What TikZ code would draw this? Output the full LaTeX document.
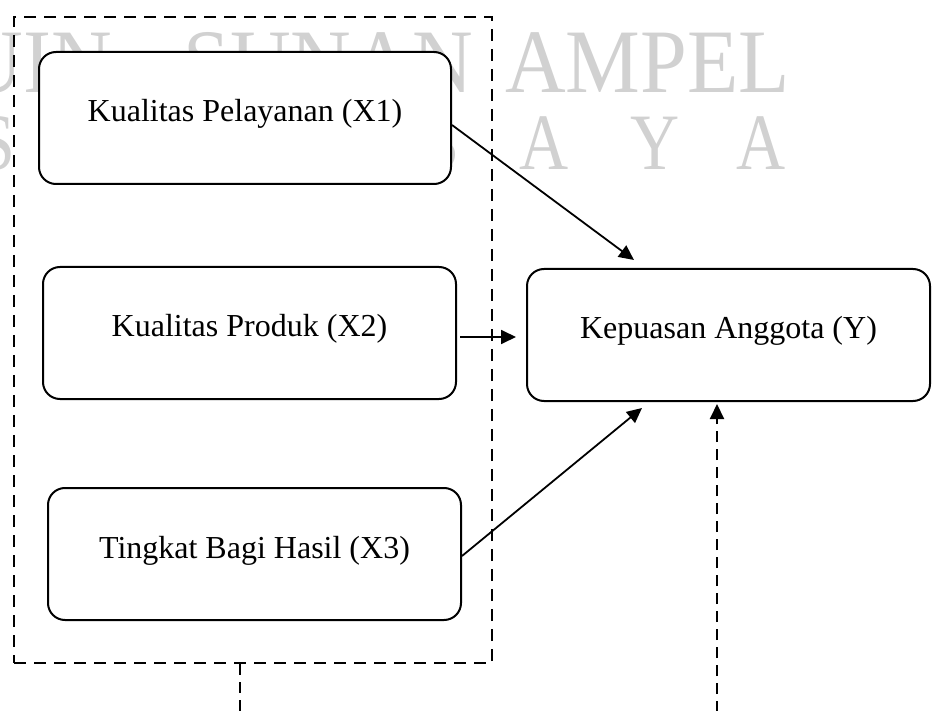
\documentclass[tikz,border=0pt]{standalone}
\usepackage{fontspec}
\setmainfont{Liberation Serif}
\usetikzlibrary{arrows.meta,calc}
\begin{document}
\begin{tikzpicture}[x=1pt,y=-1pt,
  box/.style={draw, line width=2pt, rounded corners=17pt, fill=white,
    minimum height=132pt, text height=22pt, text depth=14pt, inner sep=0pt,
    font=\fontsize{32}{38}\selectfont},
  grp/.style={draw, line width=2pt, dash pattern=on 12pt off 8pt, inner sep=0pt},
  arr/.style={line width=1.8pt, -{Triangle[length=15pt,width=14pt]}},
  darr/.style={line width=2pt, dash pattern=on 11pt off 7pt, -{Triangle[length=15pt,width=14pt]}},
  dline/.style={line width=2pt, dash pattern=on 11pt off 7pt},
  wma/.style={text=black!18, inner sep=0pt, font=\fontsize{84}{84}\selectfont, yscale=1.08},
  wmb/.style={text=black!18, inner sep=0pt, font=\fontsize{80}{80}\selectfont, xscale=0.85}]
\useasboundingbox (0,0) rectangle (932,711);
% watermark
\node[wma, anchor=base east] (wuin) at (112,93) {UIN};
\node[wma, anchor=base east] (wsun) at (473,93) {SUNAN};
\node[wma, anchor=base west] (wamp) at (505,93) {AMPEL};
\node[wmb, anchor=base] (ws1) at (-4,170) {S};
\node[wmb, anchor=base] (ws2) at (436,170) {B};
\node[wmb, anchor=base] (ws3) at (544,170) {A};
\node[wmb, anchor=base] (ws4) at (655,170) {Y};
\node[wmb, anchor=base] (ws5) at (761,170) {A};
% boxes
\node[box, minimum width=412pt] (b1) at (245,118) {Kualitas Pelayanan (X1)};
\node[box, minimum width=413pt] (b2) at (249.5,333) {Kualitas Produk (X2)};
\node[box, minimum width=413pt] (b3) at (254.5,554) {Tingkat Bagi Hasil (X3)};
\node[box, minimum width=403pt] (by) at (728.5,335) {Kepuasan Anggota (Y)};
% dashed group
\node[grp, minimum width=478pt, minimum height=646pt] (g) at (253,340) {};
% connectors
\coordinate (t1) at (634,260);
\coordinate (t2) at (516,337);
\coordinate (t3) at (642,408);
\coordinate (t4) at (717,404);
\coordinate (s4) at (717,712);
\coordinate (s5) at (240,712);
\draw[arr] ($(b1.east)+(0,7)$) -- (t1);
\draw[arr] ($(b2.east)+(3,4)$) -- (t2);
\draw[arr] ($(b3.east)+(0,2)$) -- (t3);
\draw[darr] (s4) -- (t4);
\draw[dline] (g.south -| s5) -- (s5);
\end{tikzpicture}
\end{document}
